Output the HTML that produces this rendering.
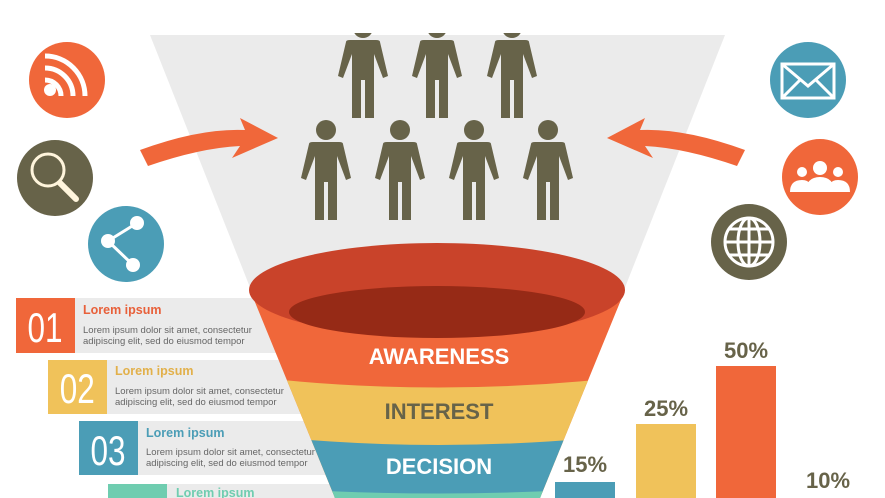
<!DOCTYPE html>
<html><head><meta charset="utf-8"><style>
body{margin:0;width:885px;height:498px;overflow:hidden;background:#fff;font-family:"Liberation Sans",sans-serif}
</style></head><body>
<svg width="885" height="498" viewBox="0 0 885 498" xmlns="http://www.w3.org/2000/svg" font-family="Liberation Sans, sans-serif" style="display:block">
<defs>
<clipPath id="fc"><path d="M250,290 L625,290 Q580,400 540,498 L335,498 Q295,400 250,290 Z"/></clipPath>
<clipPath id="pg"><rect x="0" y="0" width="885" height="498"/></clipPath>
<g id="p" fill="#676349"><circle cx="0" cy="0" r="10"/><path d="M-17,14 Q-17,12 -13,12 H13 Q17,12 17,14 L25,48 L20,50 L11,26 L11,90 L2,90 L2,52 L-2,52 L-2,90 L-11,90 L-11,26 L-20,50 L-25,48 Z"/></g>
</defs>
<g clip-path="url(#pg)">
<polygon points="150,35 725,35 620,300 255,300" fill="#ebebeb"/>
<rect x="16" y="298" width="290" height="55" fill="#ebebeb"/>
<rect x="16" y="298" width="59" height="55" fill="#f0673a"/>
<rect x="48" y="360" width="290" height="54" fill="#ebebeb"/>
<rect x="48" y="360" width="59" height="54" fill="#f0c25a"/>
<rect x="79" y="421" width="290" height="54" fill="#ebebeb"/>
<rect x="79" y="421" width="59" height="54" fill="#4b9db6"/>
<rect x="108" y="484" width="290" height="14" fill="#ebebeb"/>
<rect x="108" y="484" width="59" height="14" fill="#6fcdb0"/>
<g fill="#fff" font-size="42" text-anchor="middle" transform="scale(0.75,1)">
<text x="60" y="342">01</text><text x="103" y="403">02</text><text x="144" y="465">03</text></g>
<g font-size="12.5" font-weight="bold"><text x="83" y="314" fill="#e8603a">Lorem ipsum</text>
<text x="115" y="375" fill="#e2b04a">Lorem ipsum</text><text x="146" y="437" fill="#4b9db6">Lorem ipsum</text><text x="176" y="497" fill="#6fcdb0">Lorem ipsum</text></g>
<g font-size="9.5" fill="#666"><text x="83" y="333">Lorem ipsum dolor sit amet, consectetur</text><text x="83" y="344">adipiscing elit, sed do eiusmod tempor</text>
<text x="115" y="394">Lorem ipsum dolor sit amet, consectetur</text><text x="115" y="405">adipiscing elit, sed do eiusmod tempor</text>
<text x="146" y="455">Lorem ipsum dolor sit amet, consectetur</text><text x="146" y="466">adipiscing elit, sed do eiusmod tempor</text></g>
<g clip-path="url(#fc)">
<rect x="200" y="280" width="480" height="220" fill="#f0673a"/>
<path d="M200,370 Q437,405 680,370 L680,500 L200,500 Z" fill="#f0c25a"/>
<path d="M200,428 Q437,462 680,428 L680,500 L200,500 Z" fill="#4b9db6"/>
<path d="M200,482 Q437,505 680,482 L680,500 L200,500 Z" fill="#6fcdb0"/>
</g>
<ellipse cx="437" cy="290" rx="188" ry="47" fill="#c9432a"/>
<ellipse cx="437" cy="312" rx="148" ry="26" fill="#962a16"/>
<g font-size="22" font-weight="bold" text-anchor="middle"><text x="439" y="364" fill="#fff">AWARENESS</text>
<text x="439" y="419" fill="#676349">INTEREST</text><text x="439" y="474" fill="#fff">DECISION</text></g>
<rect x="555" y="482" width="60" height="16" fill="#4b9db6"/>
<rect x="636" y="424" width="60" height="74" fill="#f0c25a"/>
<rect x="716" y="366" width="60" height="132" fill="#f0673a"/>
<g font-size="22" font-weight="bold" fill="#676349" text-anchor="middle"><text x="585" y="472">15%</text><text x="666" y="416">25%</text><text x="746" y="358">50%</text><text x="828" y="488">10%</text></g>
<path d="M140,150 Q200,128 245,130 L240,118 L278,138 L232,158 L240,146 Q200,148 148,166 Z" fill="#f0673a"/>
<path d="M745,150 Q685,128 640,130 L645,118 L607,138 L653,158 L645,146 Q685,148 737,166 Z" fill="#f0673a"/>
<circle cx="67" cy="80" r="38" fill="#f0673a"/>
<g fill="none" stroke="#fff" stroke-width="5"><path d="M45,68 A28,28 0 0 1 73,96"/><path d="M45,56 A40,40 0 0 1 85,96"/><path d="M45,80 A16,16 0 0 1 61,96"/></g>
<circle cx="50" cy="90" r="6" fill="#fff"/>
<circle cx="55" cy="178" r="38" fill="#676349"/>
<circle cx="48" cy="170" r="16" fill="none" stroke="#fff5dc" stroke-width="3"/>
<line x1="60" y1="183" x2="76" y2="199" stroke="#fff5dc" stroke-width="6" stroke-linecap="round"/>
<circle cx="126" cy="244" r="38" fill="#4b9db6"/>
<g stroke="#fff" stroke-width="3"><line x1="108" y1="241" x2="137" y2="223"/><line x1="108" y1="241" x2="133" y2="265"/></g>
<g fill="#fff"><circle cx="108" cy="241" r="7"/><circle cx="137" cy="223" r="7"/><circle cx="133" cy="265" r="7"/></g>
<circle cx="808" cy="80" r="38" fill="#4b9db6"/>
<rect x="782" y="64" width="52" height="34" fill="none" stroke="#fff" stroke-width="3"/>
<path d="M782,64 L808,86 L834,64 M782,98 L800,80 M834,98 L816,80" fill="none" stroke="#fff" stroke-width="3"/>
<circle cx="820" cy="177" r="38" fill="#f0673a"/>
<g fill="#fff"><circle cx="820" cy="168" r="7"/><circle cx="802" cy="172" r="5"/><circle cx="838" cy="172" r="5"/>
<path d="M806,192 Q806,177 820,177 Q834,177 834,192 Z"/><path d="M790,192 Q790,180 802,180 Q808,180 810,184 L806,192 Z"/><path d="M850,192 Q850,180 838,180 Q832,180 830,184 L834,192 Z"/></g>
<circle cx="749" cy="242" r="38" fill="#676349"/>
<g fill="none" stroke="#fff" stroke-width="3"><circle cx="749" cy="242" r="24"/><ellipse cx="749" cy="242" rx="11" ry="24"/><line x1="749" y1="218" x2="749" y2="266"/><line x1="725" y1="242" x2="773" y2="242"/><path d="M729,229 H769 M729,255 H769"/></g>
<use href="#p" x="363" y="28"/><use href="#p" x="437" y="28"/><use href="#p" x="512" y="28"/>
<use href="#p" x="326" y="130"/><use href="#p" x="400" y="130"/><use href="#p" x="474" y="130"/><use href="#p" x="548" y="130"/>
<rect x="0" y="0" width="885" height="33" fill="#fff"/>
</g>
</svg>
</body></html>
